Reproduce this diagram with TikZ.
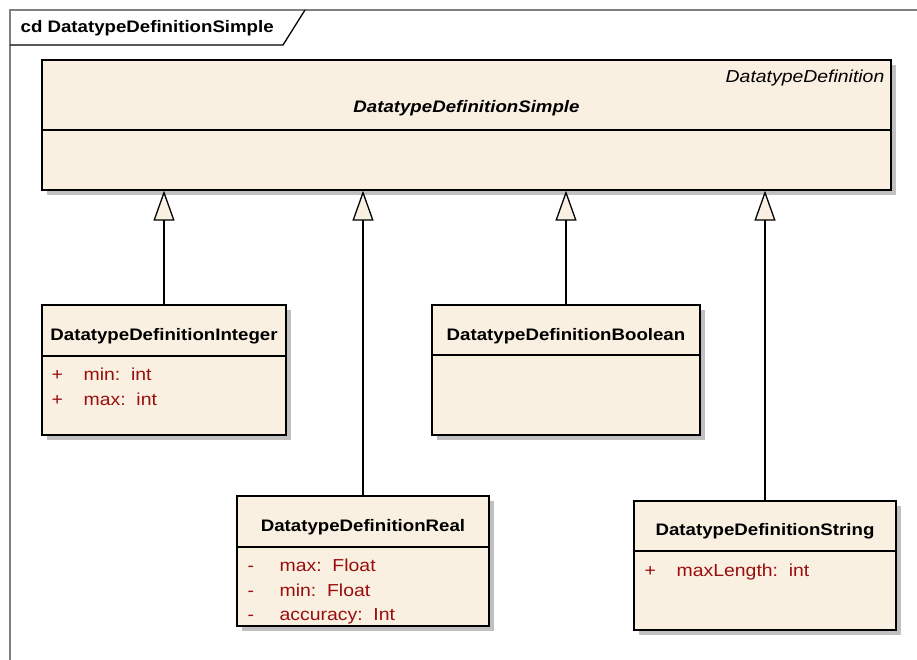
\documentclass[tikz,border=0pt]{standalone}
\usepackage{fontspec}
\setmainfont[FakeStretch=1.12]{Liberation Sans}
\usetikzlibrary{arrows.meta}
\newlength{\du}
\setlength{\du}{0.75pt}
\definecolor{umlfill}{rgb}{0.980392, 0.941176, 0.886275}
\definecolor{umlattr}{rgb}{0.600000, 0.050000, 0.050000}
\tikzset{
  classbox/.style={draw=black, fill=umlfill, line width=1.3\du, inner sep=0pt},
  classname/.style={font=\fontsize{12.5}{14}\selectfont\bfseries, inner sep=0pt, anchor=base},
  attrvis/.style={font=\fontsize{13}{14}\selectfont, text=umlattr, inner sep=0pt, anchor=base west},
  attrtext/.style={font=\fontsize{13}{14}\selectfont, text=umlattr, inner sep=0pt, anchor=base west},
  generalization/.style={line width=1.3\du, -{Triangle[length=22.5pt, width=15.75pt, fill=umlfill]}},
}

\begin{document}
\begin{tikzpicture}
\pgftransformxscale{1.000000}
\pgftransformyscale{-1.000000}
\useasboundingbox (0\du,0\du) rectangle (917\du,660\du);
\pgfsetlinewidth{1.300000\du}
% frame
\definecolor{dialinecolor}{rgb}{0.501961, 0.501961, 0.501961}
\pgfsetstrokecolor{dialinecolor}
\draw (917\du,10\du)--(10\du,10\du)--(10\du,660\du);
\definecolor{dialinecolor}{rgb}{0.000000, 0.000000, 0.000000}
\pgfsetstrokecolor{dialinecolor}
\draw (10\du,45\du)--(283\du,45\du)--(305\du,10\du);
\node[anchor=base west, inner sep=0pt, font=\fontsize{12.5}{14}\selectfont\bfseries] (frametitle) at (20\du,33\du){cd DatatypeDefinitionSimple};
% shadows
\definecolor{dialinecolor}{rgb}{0.752941, 0.752941, 0.752941}
\pgfsetfillcolor{dialinecolor}
\fill (47\du,65\du)--(47\du,195\du)--(896\du,195\du)--(896\du,65\du)--cycle;
\fill (47\du,310\du)--(47\du,440\du)--(291\du,440\du)--(291\du,310\du)--cycle;
\fill (437\du,310\du)--(437\du,440\du)--(705\du,440\du)--(705\du,310\du)--cycle;
\fill (242\du,501\du)--(242\du,631\du)--(494\du,631\du)--(494\du,501\du)--cycle;
\fill (639\du,506\du)--(639\du,635\du)--(901\du,635\du)--(901\du,506\du)--cycle;
% classes
\node[classbox, minimum width=849\du, minimum height=130\du] (simple) at (466.5\du,125\du){};
\node[classbox, minimum width=244\du, minimum height=130\du] (intg) at (164\du,370\du){};
\node[classbox, minimum width=268\du, minimum height=130\du] (bool) at (566\du,370\du){};
\node[classbox, minimum width=252\du, minimum height=130\du] (real) at (363\du,561\du){};
\node[classbox, minimum width=262\du, minimum height=129\du] (str) at (765\du,565.5\du){};
\draw (42\du,130\du)--(891\du,130\du);
\draw (42\du,356\du)--(286\du,356\du);
\draw (432\du,355\du)--(700\du,355\du);
\draw (237\du,547\du)--(489\du,547\du);
\draw (634\du,551\du)--(896\du,551\du);
% names
\node[anchor=base east, inner sep=0pt, font=\fontsize{13}{14}\selectfont\itshape] (simplestereo) at (885\du,82.5\du){DatatypeDefinition};
\node[classname, font=\fontsize{12.5}{14}\selectfont\bfseries\itshape] (simplename) at (466.5\du,113\du){DatatypeDefinitionSimple};
\node[classname] (intgname) at (164\du,340\du){DatatypeDefinitionInteger};
\node[classname] (boolname) at (566\du,340\du){DatatypeDefinitionBoolean};
\node[classname] (realname) at (363\du,531.5\du){DatatypeDefinitionReal};
\node[classname] (strname) at (765\du,535\du){DatatypeDefinitionString};
% attributes
\node[attrvis] (intgvisa) at (51\du,380\du){+};
\node[attrtext] (intgmin) at (83\du,380\du){min:\ \ int};
\node[attrvis] (intgvisb) at (51\du,405\du){+};
\node[attrtext] (intgmax) at (83\du,405\du){max:\ \ int};
\node[attrvis] (realvisa) at (247\du,571.5\du){-};
\node[attrtext] (realmax) at (279\du,571.5\du){max:\ \ Float};
\node[attrvis] (realvisb) at (247\du,596\du){-};
\node[attrtext] (realmin) at (279\du,596\du){min:\ \ Float};
\node[attrvis] (realvisc) at (247\du,620.5\du){-};
\node[attrtext] (realacc) at (279\du,620.5\du){accuracy:\ \ Int};
\node[attrvis] (strvis) at (644\du,576\du){+};
\node[attrtext] (strmaxlen) at (676\du,576\du){maxLength:\ \ int};
% generalizations
\draw[generalization] (intg.north)--(intg.north |- simple.south);
\draw[generalization] (real.north)--(real.north |- simple.south);
\draw[generalization] (bool.north)--(bool.north |- simple.south);
\draw[generalization] (str.north)--(str.north |- simple.south);
\end{tikzpicture}
\end{document}
